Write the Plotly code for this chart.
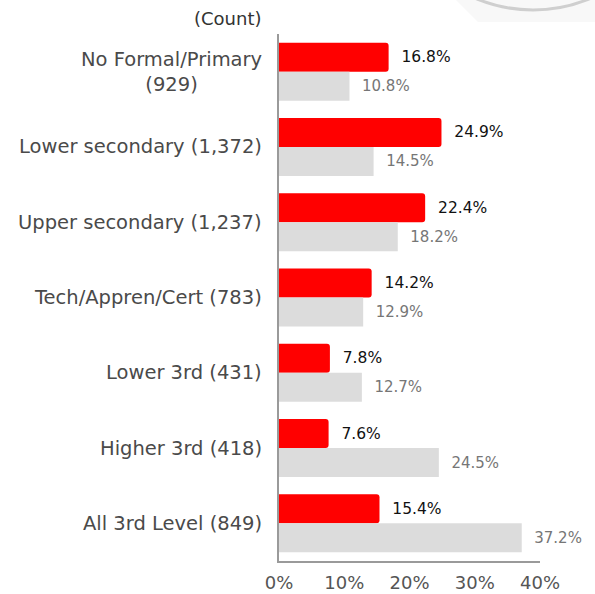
import plotly.graph_objects as go

categories = ["No Formal/Primary<br>(929)", "Lower secondary (1,372)", "Upper secondary (1,237)",
              "Tech/Appren/Cert (783)", "Lower 3rd (431)", "Higher 3rd (418)", "All 3rd Level (849)"]
series_red = [16.8, 24.9, 22.4, 14.2, 7.8, 7.6, 15.4]
series_gray = [10.8, 14.5, 18.2, 12.9, 12.7, 24.5, 37.2]
x_ticks = [0, 10, 20, 30, 40]
x_ticklabels = ["0%", "10%", "20%", "30%", "40%"]

W, H = 595, 594
ML, MR, MT, MB = 279, 55, 34, 33
FONT = "DejaVu Sans"

fig = go.Figure()
fig.add_trace(go.Bar(
    y=categories, x=series_red, orientation="h", name="red",
    marker=dict(color="#ff0000", cornerradius=3, line=dict(width=0)),
    text=["\u00a0\u00a0" + f"{v:.1f}%" for v in series_red], textposition="outside",
    textfont=dict(family=FONT, size=15.5, color="#111111"), cliponaxis=False,
))
fig.add_trace(go.Bar(
    y=categories, x=series_gray, orientation="h", name="gray",
    marker=dict(color="#dcdcdc", line=dict(width=0)),
    text=["\u00a0\u00a0" + f"{v:.1f}%" for v in series_gray], textposition="outside",
    textfont=dict(family=FONT, size=15, color="#767676"), cliponaxis=False,
))

pw = W - ML - MR
ph = H - MT - MB
def px_x(p):
    return (p - ML) / pw
def px_y(p):
    return (H - MB - p) / ph

annotations = []
for c in categories:
    annotations.append(dict(
        x=px_x(264), xref="paper", y=c, yref="y", text=c,
        xanchor="right", yanchor="middle", align="center", showarrow=False,
        font=dict(family=FONT, size=19.5, color="#4a4a4a"),
    ))
annotations.append(dict(
    x=px_x(264), xref="paper", y=px_y(19), yref="paper",
    text="(Count)", xanchor="right", yanchor="middle", showarrow=False,
    font=dict(family=FONT, size=18, color="#333333"),
))

cx, cy, r = 533, -138, 148
shapes = [
    dict(type="path", xref="paper", yref="paper",
         path=f"M {px_x(455)} {px_y(-1)} L {px_x(478)} {px_y(22)} L {px_x(596)} {px_y(22)} L {px_x(596)} {px_y(-1)} Z",
         fillcolor="#f8f8f8", line=dict(width=0), layer="below"),
    dict(type="circle", xref="paper", yref="paper",
         x0=px_x(cx - r), x1=px_x(cx + r), y0=px_y(cy + r), y1=px_y(cy - r),
         line=dict(color="#cfcfcf", width=3), fillcolor="rgba(0,0,0,0)"),
]

fig.update_layout(
    width=W, height=H, margin=dict(l=ML, r=MR, t=MT, b=MB, autoexpand=False),
    barmode="group", bargap=0.23, bargroupgap=0.0,
    showlegend=False, plot_bgcolor="white", paper_bgcolor="white",
    annotations=annotations, shapes=shapes,
    xaxis=dict(range=[0, 40], tickvals=x_ticks, ticktext=x_ticklabels, showgrid=False,
               zeroline=False, showline=True, linecolor="#9a9a9a", linewidth=1.5,
               ticks="", ticklabelstandoff=5, automargin=False,
               tickfont=dict(family=FONT, size=18, color="#555555")),
    yaxis=dict(autorange="reversed", showticklabels=False, showgrid=False, zeroline=False,
               showline=True, linecolor="#9a9a9a", linewidth=1.5, ticks="", automargin=False),
)
fig.write_html("out.html", config={"displayModeBar": False},
               post_script="document.body.style.margin='0';document.body.style.overflow='hidden';")
